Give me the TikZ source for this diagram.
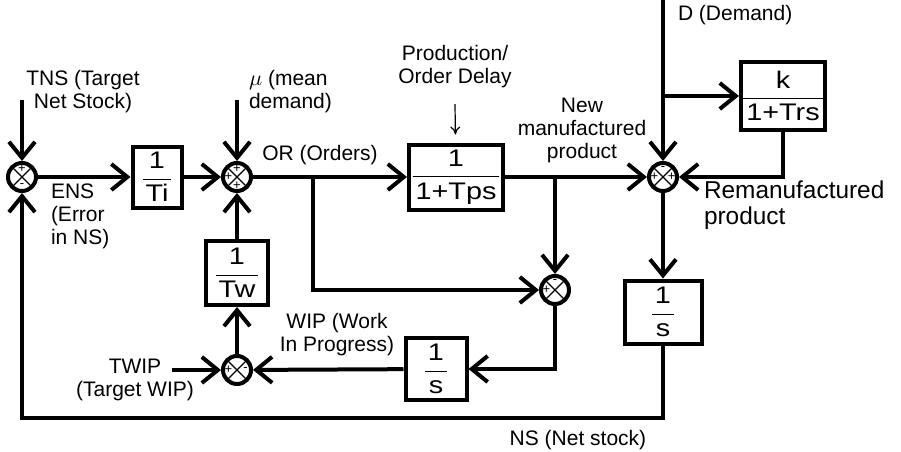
\documentclass[tikz,border=0pt]{standalone}
\usepackage{amsmath}
\usepackage{fontspec}
\setmainfont{Liberation Sans}
\newfontfamily\boxfont[FakeStretch=1.2]{Liberation Sans}
\usetikzlibrary{arrows.meta}
\newcommand{\tf}[2]{$\dfrac{\text{\hspace{1.5pt}#1\hspace{1.5pt}}}{\text{\hspace{1.5pt}#2\hspace{1.5pt}}}$}

\begin{document}
\begin{tikzpicture}[x=0.5pt, y=-0.5pt, line width=2pt, >={Straight Barb[length=8pt,width=13pt]},
  blk/.style={draw, line width=2pt, inner sep=0pt, font=\boxfont\fontsize{12}{13}\selectfont},
  sgn/.style={inner sep=0pt, font=\fontsize{6.5}{6.5}\selectfont},
  sumj/.style={circle, draw, line width=2pt, minimum size=14pt, inner sep=0pt,
    path picture={
      \draw[line width=0.6pt] (path picture bounding box.north west) -- (path picture bounding box.south east)
        (path picture bounding box.north east) -- (path picture bounding box.south west);}},
  lbl/.style={font=\fontsize{10.5}{11.5}\selectfont, align=center, inner sep=0pt}]
\useasboundingbox (0,0) rectangle (901,451);

% junctions and blocks
\node[sumj] (s1) at (22,177) {};
\node[blk, minimum width=24.5pt, minimum height=30.5pt] (ti) at (157,177) {\tf{1}{Ti}};
\node[sumj] (s2) at (237,177) {};
\node[blk, minimum width=47pt, minimum height=32.5pt] (tps) at (456,177) {\tf{1}{1+Tps}};
\node[sumj] (s3) at (663,177) {};
\node[blk, minimum width=37pt, minimum height=34pt] (k) at (783,96) {\tf{k}{1+Trs}};
\node[sumj] (s4) at (555,290) {};
\node[blk, minimum width=31pt, minimum height=32pt] (tw) at (237,273) {\tf{1}{Tw}};
\node[sumj] (s5) at (237,370) {};
\node[blk, minimum width=30.5pt, minimum height=31pt] (ss) at (436,369) {\tf{1}{s}};
\node[blk, minimum width=38.5pt, minimum height=31.5pt] (sr) at (663,312) {\tf{1}{s}};

% signs in the junctions
\foreach \j/\a/\t in {s1/90/+, s1/270/-, s2/90/+, s2/180/+, s2/270/+, s3/90/-, s3/180/+, s3/0/+,
                      s4/90/-, s4/180/+, s5/180/+, s5/0/-}
  \node[sgn] (\j-\a) at ([shift={(\a:4.3pt)}]\j.center) {\t};

% free ends and branch points
\coordinate (tnsin) at (22,100);
\coordinate (muin) at (237,100);
\coordinate (dtop) at (663,0);
\coordinate (dbr) at (663,96);
\coordinate (orbr) at (313,177);
\coordinate (npbr) at (555,177);
\coordinate (twipin) at (172,370);
\coordinate (nscorner) at (22,418);
\coordinate (pdin) at (455,104);

% labels
\node[lbl] (tnslbl) at (83,92) {TNS (Target\\Net Stock)};
\node[lbl, align=left, anchor=west] (mulbl) at (247,92) {$\mu$ (mean\\demand)};
\node[lbl, align=left, anchor=west] (enslbl) at (49,216) {ENS\\(Error\\in NS)};
\node[lbl] (orlbl) at (320,155) {OR (Orders)};
\node[lbl] (pdlbl) at (455,67) {Production/\\Order Delay};
\node[lbl] (nplbl) at (582,130) {New\\manufactured\\product};
\node[lbl, anchor=west] (dlbl) at (676,15) {D (Demand)};
\node[lbl, align=left, anchor=west, font=\fontsize{12.2}{13}\selectfont] (rplbl) at (702,205) {Remanufactured\\product};
\node[lbl] (wiplbl) at (337,335) {WIP (Work\\In Progress)};
\node[lbl] (twiplbl) at (135,380) {TWIP\\(Target WIP)};
\node[lbl] (nslbl) at (578,440) {NS (Net stock)};

% connectors
\draw[->] (tnsin) -- (s1);
\draw[->] (s1) -- (ti);
\draw[->] (ti) -- (s2);
\draw[->] (muin) -- (s2);
\draw[->] (s2) -- (tps);
\draw[->] (orbr) |- (s4);
\draw[->] (tps) -- (s3);
\draw[->] (npbr) -- (s4);
\draw[->] (dtop) -- (s3);
\draw[->] (dbr) -- (k);
\draw[->] (k) |- (s3);
\draw[->] (s3) -- (sr);
\draw[->] (sr) |- (nscorner) -- (s1);
\draw[->] (s4) |- (ss);
\draw[->] (ss) -- (s5);
\draw[->] (twipin) -- (s5);
\draw[->] (s5) -- (tw);
\draw[->] (tw) -- (s2);
\draw[-{To[length=4pt,width=5pt]}, line width=0.6pt, shorten >=4pt] (pdin) -- (tps);
\end{tikzpicture}
\end{document}
